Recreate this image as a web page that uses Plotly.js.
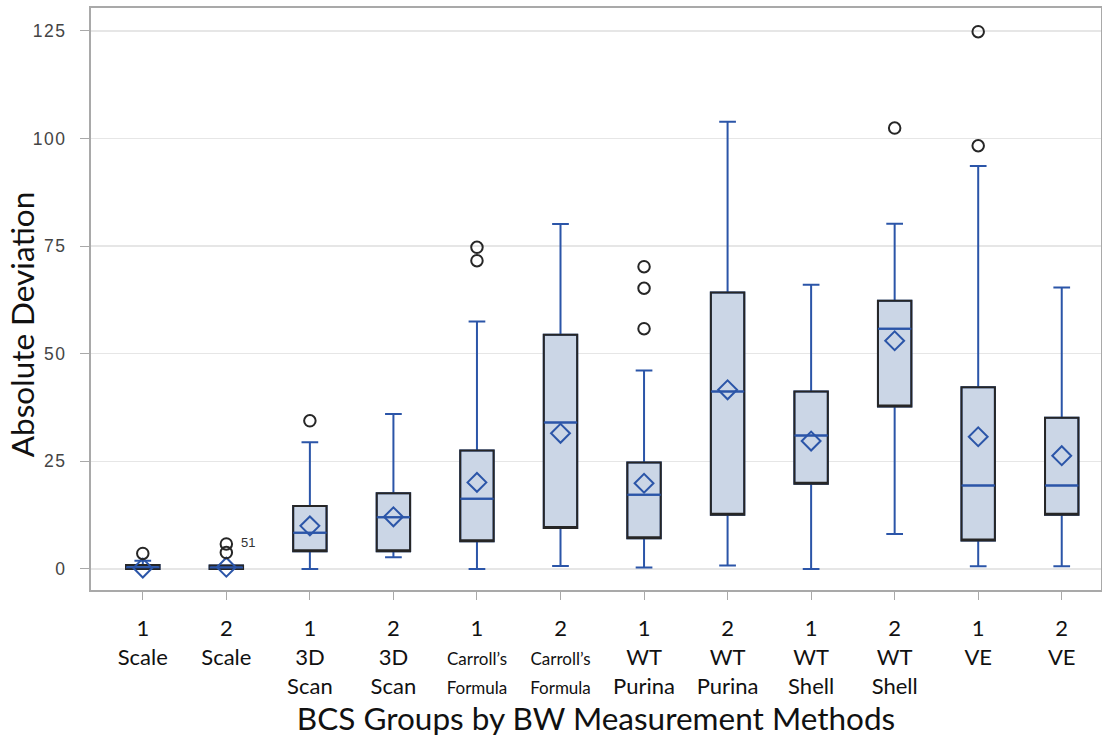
<!DOCTYPE html>
<html>
<head>
<meta charset="utf-8">
<script src="https://cdn.plot.ly/plotly-3.0.1.min.js"></script>
<style>
html,body{margin:0;padding:0;background:#fff;}
#chart{width:1102px;height:738px;}
.ytick text{letter-spacing:1.5px;}
</style>
</head>
<body>
<div id="chart"></div>
<script>
// ---- data ----
var categories = ["1 Scale","2 Scale","1 3D Scan","2 3D Scan","1 Carroll's Formula","2 Carroll's Formula",
                  "1 WT Purina","2 WT Purina","1 WT Shell","2 WT Shell","1 VE","2 VE"];
var tickLabels = ["1<br>Scale","2<br>Scale","1<br>3D<br>Scan","2<br>3D<br>Scan",
                  "1<br><span style='font-size:17px'>Carroll’s<br>Formula</span>",
                  "2<br><span style='font-size:17px'>Carroll’s<br>Formula</span>",
                  "1<br>WT<br>Purina","2<br>WT<br>Purina","1<br>WT<br>Shell","2<br>WT<br>Shell","1<br>VE","2<br>VE"];
var q1Values     = [0,   0,   4.1, 4.1, 6.4, 9.5, 7.1, 12.6, 19.8, 37.7, 6.6, 12.6];
var medianValues = [0.4, 0.3, 8.4, 12.0,16.3,34.0,17.2,41.2, 31.0, 55.8, 19.4,19.4];
var q3Values     = [0.9, 0.8, 14.6,17.6,27.5,54.4,24.7,64.2, 41.2, 62.3, 42.2,35.1];
var lowerWhisker = [0,   0,   0,   2.7, 0,   0.7, 0.3, 0.8,  0,    8.1,  0.6, 0.6];
var upperWhisker = [1.9, 0.8, 29.4,36.0,57.5,80.1,46.1,103.9,66.0, 80.2, 93.6,65.4];
var meanValues   = [0.2, 0.4, 10.0,12.1,20.1,31.5,19.9,41.6, 29.7, 53.0, 30.7,26.3];
var outlierCats  = ["1 Scale","2 Scale","2 Scale","1 3D Scan","1 Carroll's Formula","1 Carroll's Formula",
                    "1 WT Purina","1 WT Purina","1 WT Purina","2 WT Shell","1 VE","1 VE"];
var outlierVals  = [3.6, 3.8, 5.8, 34.4, 74.7, 71.6, 70.2, 65.2, 55.8, 102.4, 124.8, 98.3];
var yTicks = [0, 25, 50, 75, 100, 125];

var blue = '#2b55a8', dark = '#262626', fill = '#cbd6e6';
var baseFont = 'Lato, "Open Sans", sans-serif';

var traces = [
  { type:'box', x:categories, q1:q1Values, median:medianValues, q3:q3Values,
    lowerfence:lowerWhisker, upperfence:upperWhisker,
    fillcolor:fill, line:{color:blue, width:2}, width:0.4, whiskerwidth:0.5,
    boxpoints:false, hoverinfo:'skip', showlegend:false },
  // dark outline of the box
  { type:'box', x:categories, q1:q1Values, median:q1Values, q3:q3Values,
    lowerfence:q1Values, upperfence:q3Values,
    fillcolor:'rgba(0,0,0,0)', line:{color:dark, width:2}, width:0.4, whiskerwidth:0,
    boxpoints:false, hoverinfo:'skip', showlegend:false },
  // median lines redrawn in blue over outline
  { type:'box', x:categories, q1:medianValues, median:medianValues, q3:medianValues,
    lowerfence:medianValues, upperfence:medianValues,
    fillcolor:'rgba(0,0,0,0)', line:{color:blue, width:2}, width:0.4, whiskerwidth:0,
    boxpoints:false, hoverinfo:'skip', showlegend:false },
  { type:'scatter', mode:'markers', x:categories, y:meanValues,
    marker:{symbol:'diamond-open', size:14.5, color:blue, line:{width:2, color:blue}},
    showlegend:false },
  { type:'scatter', mode:'markers', x:outlierCats, y:outlierVals,
    marker:{symbol:'circle-open', size:11.5, color:dark, line:{width:2, color:dark}},
    showlegend:false }
];

var layout = {
  width:1102, height:738,
  margin:{l:91, r:1, t:8, b:148},
  paper_bgcolor:'#ffffff', plot_bgcolor:'#ffffff',
  boxmode:'overlay',
  showlegend:false,
  xaxis:{
    type:'category', categoryorder:'array', categoryarray:categories,
    tickvals:categories, ticktext:tickLabels,
    range:[-0.62, 11.47],
    showgrid:false, zeroline:false,
    showline:true, mirror:true, linecolor:'#a9a9a9', linewidth:2,
    ticks:'outside', ticklen:8, tickcolor:'#a9a9a9', tickwidth:1,
    ticklabelstandoff:10,
    tickfont:{family:baseFont, size:22, color:'#111'},
    title:{text:'BCS Groups by BW Measurement Methods', font:{family:baseFont, size:31.5, color:'#111'}, standoff:6},
    automargin:false
  },
  yaxis:{
    range:[-4.9, 130.3],
    tickvals:yTicks, ticktext:yTicks.map(String),
    showgrid:true, gridcolor:'#e6e6e6', gridwidth:1.5, zeroline:false,
    showline:true, mirror:true, linecolor:'#a9a9a9', linewidth:2,
    ticks:'outside', ticklen:9, tickcolor:'#a9a9a9', tickwidth:1,
    ticklabelstandoff:10,
    tickfont:{family:'"Liberation Sans", Arial, sans-serif', size:17.5, color:'#444'},
    automargin:false
  },
  annotations:[
    {xref:'paper', yref:'paper', x:-0.0683, y:0.455, text:'Absolute Deviation', textangle:-90,
     showarrow:false, xanchor:'center', yanchor:'middle',
     font:{family:baseFont, size:31.5, color:'#111'}},
    {x:'2 Scale', y:5.8, xref:'x', yref:'y', text:'51', showarrow:false, xshift:22, yshift:1,
     font:{family:'"Liberation Sans", Arial, sans-serif', size:13, color:'#333'}}
  ]
};

Plotly.newPlot('chart', traces, layout, {displayModeBar:false, staticPlot:true});
</script>
</body>
</html>
